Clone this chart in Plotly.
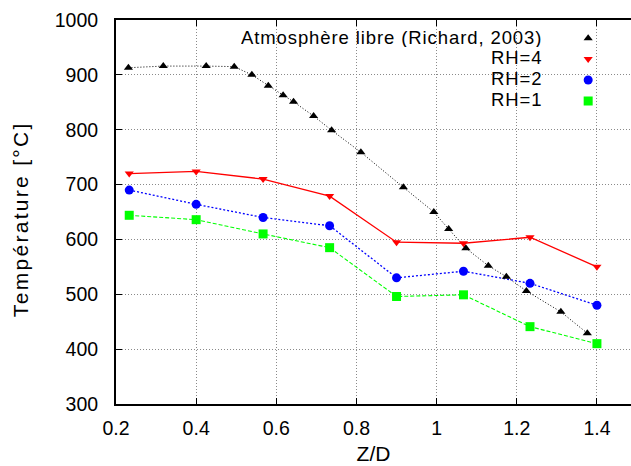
import plotly.graph_objects as go

# Z/D positions of the measurement stations
zd_rh = [0.233, 0.4, 0.567, 0.733, 0.9, 1.067, 1.233, 1.4]
# Temperatures [°C] for each hydraulic radius
t_rh4 = [720, 724, 710, 679, 595, 593, 604, 550]
t_rh2 = [690, 664, 640, 625, 530, 542, 520, 480]
t_rh1 = [644, 636, 610, 585, 496, 499, 441, 410]

# Free-atmosphere reference profile (Richard, 2003)
zd_atm = [0.231, 0.318, 0.425, 0.495, 0.539, 0.580, 0.617, 0.643, 0.693, 0.738,
          0.811, 0.917, 0.993, 1.030, 1.073, 1.129, 1.174, 1.224, 1.310, 1.376]
t_atm = [913, 916, 916, 915, 900, 880, 863, 851, 825, 799,
         759, 695, 650, 619, 584, 552, 532, 506, 468, 429]

labels = ["Atmosphère libre (Richard, 2003)", "RH=4", "RH=2", "RH=1"]
x_ticks = [0.2, 0.4, 0.6, 0.8, 1.0, 1.2, 1.4]
x_tick_text = ["0.2", "0.4", "0.6", "0.8", "1", "1.2", "1.4"]
y_ticks = [300, 400, 500, 600, 700, 800, 900, 1000]

FONT = "Liberation Sans, Arial, Helvetica, sans-serif"

series = [
    dict(x=zd_atm, y=t_atm, color="#000000", dash="1px,2px", lw=1,
         symbol="triangle-up", size=8),
    dict(x=zd_rh, y=t_rh4, color="#ff0000", dash="solid", lw=1.3,
         symbol="triangle-down", size=8),
    dict(x=zd_rh, y=t_rh2, color="#0000ff", dash="2px,2px", lw=1.3,
         symbol="circle", size=9),
    dict(x=zd_rh, y=t_rh1, color="#00ff00", dash="4px,2px", lw=1.1,
         symbol="square", size=9),
]

fig = go.Figure()

# connecting lines (not shown in the key)
for s in series:
    fig.add_trace(go.Scatter(
        x=s["x"], y=s["y"], mode="lines", showlegend=False, hoverinfo="skip",
        line=dict(color=s["color"], width=s["lw"], dash=s["dash"]),
    ))

# point markers (these feed the key)
for s, lab in zip(series, labels):
    fig.add_trace(go.Scatter(
        x=s["x"], y=s["y"], mode="markers", name="", hovertext=lab,
        marker=dict(symbol=s["symbol"], size=s["size"], color=s["color"],
                    line=dict(width=0)),
    ))

# key labels, right-aligned to the left of the key symbols
label_y = [0.9557, 0.9016, 0.8474, 0.7932]
for lab, ly in zip(labels, label_y):
    fig.add_annotation(
        text=f'<span style="letter-spacing:0.9px">{lab}</span>',
        xref="paper", yref="paper", x=0.829, y=ly,
        xanchor="right", yanchor="middle", showarrow=False,
        height=19, valign="middle", borderpad=0,
        font=dict(family=FONT, size=18.5, color="#000000"),
    )

# y-axis title
fig.add_annotation(
    text='<span style="letter-spacing:2.3px">Température [°C]</span>',
    xref="paper", yref="paper", x=-0.184, y=0.482,
    xanchor="center", yanchor="middle", textangle=-90, showarrow=False,
    font=dict(family=FONT, size=21, color="#000000"),
)

# opaque key background hiding the grid behind the key
fig.add_shape(
    type="rect", xref="paper", yref="paper", x0=0.064, x1=0.988, y0=0.771, y1=1.0,
    fillcolor="white", line=dict(width=0), layer="between",
)

fig.update_layout(
    width=631, height=466,
    margin=dict(l=116, r=0, t=20, b=62),
    paper_bgcolor="white", plot_bgcolor="white",
    font=dict(family=FONT, size=19.5, color="#000000"),
    showlegend=True,
    legend=dict(
        x=0.878, y=0.993, xanchor="left", yanchor="top",
        bgcolor="rgba(0,0,0,0)", borderwidth=0,
        font=dict(size=13.8), tracegroupgap=0, itemwidth=30,
    ),
)

fig.update_xaxes(
    range=[0.2, 1.485], tickvals=x_ticks, ticktext=x_tick_text,
    ticks="inside", ticklen=6, tickwidth=1, tickcolor="#000000",
    showline=True, linecolor="#000000", linewidth=2, mirror="ticks",
    showgrid=True, gridcolor="#8a8a8a", gridwidth=1, griddash="1px,2px",
    zeroline=False, ticklabelstandoff=6,
    title=dict(text="Z/D", font=dict(size=21), standoff=8),
)
fig.update_yaxes(
    range=[300, 1000], tickvals=y_ticks,
    ticks="inside", ticklen=6, tickwidth=1, tickcolor="#000000",
    showline=True, linecolor="#000000", linewidth=2, mirror=False,
    showgrid=True, gridcolor="#8a8a8a", gridwidth=1, griddash="1px,2px",
    zeroline=False, ticklabelstandoff=12,
)

fig.write_html("out.html")
